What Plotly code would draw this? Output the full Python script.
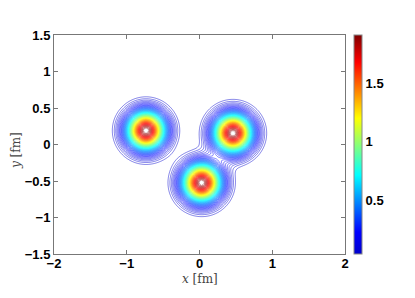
import numpy as np
import plotly.graph_objects as go

# Nucleon centres (fm), peak densities and Gaussian widths
x_centers = [-0.735, 0.46, 0.03]
y_centers = [0.19, 0.155, -0.525]
amplitudes = [1.88, 1.88, 1.88]
widths = [0.172, 0.172, 0.172]

x_ticks = [-2, -1, 0, 1, 2]
y_ticks = [-1.5, -1, -0.5, 0, 0.5, 1, 1.5]
cbar_ticks = [0.5, 1, 1.5]

xs = np.linspace(-2, 2, 401)
ys = np.linspace(-1.5, 1.5, 301)
X, Y = np.meshgrid(xs, ys)
Z = np.zeros_like(X)
for cx, cy, a, s in zip(x_centers, y_centers, amplitudes, widths):
    Z += a * np.exp(-((X - cx) ** 2 + (Y - cy) ** 2) / (2 * s ** 2))

jet = [
    [0.0, "rgb(0,0,205)"],
    [0.1, "rgb(0,0,255)"],
    [0.36, "rgb(0,255,255)"],
    [0.62, "rgb(255,255,0)"],
    [0.875, "rgb(255,0,0)"],
    [1.0, "rgb(128,0,0)"],
]
zmin, zmax = 0.04, 1.91

tickfont = dict(family="Liberation Sans", size=13, color="black", weight="bold")
titlefont = dict(family="DejaVu Serif", size=12, color="#444")

# page is drawn with an 8px body margin, so the figure is 8px smaller
W, H = 407, 290
ML, MR, MT, MB = 46, 70, 27, 44

fig = go.Figure()
fig.add_trace(go.Heatmap(
    x=xs, y=ys, z=Z, zmin=zmin, zmax=zmax, colorscale=jet, opacity=0,
    hoverinfo="skip", showscale=True,
    colorbar=dict(
        x=1.031, xanchor="left", xref="paper", y=0.5, yanchor="middle",
        len=1, lenmode="fraction", thickness=8, thicknessmode="pixels",
        outlinecolor="#888", outlinewidth=1, tickvals=cbar_ticks,
        ticktext=["0.5", "1", "1.5"], ticks="", tickfont=tickfont,
        xpad=0, ypad=0, borderwidth=0, title=dict(text="", side="right"),
    ),
))
fig.add_trace(go.Contour(
    x=xs, y=ys, z=Z, zmin=zmin, zmax=zmax, colorscale=jet, showscale=False,
    contours=dict(coloring="lines", start=0.05, end=1.87, size=0.025),
    line=dict(width=0.5), hoverinfo="skip",
))
fig.add_trace(go.Scatter(
    x=x_centers, y=y_centers, mode="markers",
    marker=dict(symbol="asterisk-open", size=4, color="white",
                line=dict(color="white", width=1)),
    hoverinfo="skip", showlegend=False,
))

axis_common = dict(
    showgrid=False, zeroline=False, showline=True, linecolor="#777",
    linewidth=1, mirror="ticks", ticks="inside", ticklen=4, tickcolor="#777",
    tickfont=tickfont, automargin=False,
)
fig.update_layout(
    width=W, height=H,
    margin=dict(l=ML, r=MR, t=MT, b=MB, autoexpand=False),
    paper_bgcolor="white", plot_bgcolor="white",
    showlegend=False,
    xaxis=dict(range=[-2, 2], tickvals=x_ticks, ticklabelstandoff=-3,
               ticktext=["\u22122", "\u22121", "0", "1", "2"], **axis_common),
    yaxis=dict(range=[-1.5, 1.5], tickvals=y_ticks,
               ticktext=["\u22121.5", "\u22121", "\u22120.5", "0", "0.5", "1", "1.5"],
               **axis_common),
    annotations=[
        dict(text="<i>x</i> [fm]", xref="paper", yref="paper", x=0.5, y=0,
             yshift=-25, xanchor="center", yanchor="middle", showarrow=False,
             font=titlefont),
        dict(text="<i>y</i> [fm]", xref="paper", yref="paper", x=0, y=0.47,
             xshift=-38, xanchor="center", yanchor="middle", showarrow=False,
             textangle=-90, font=titlefont),
    ],
)
fig.write_html("out.html")
